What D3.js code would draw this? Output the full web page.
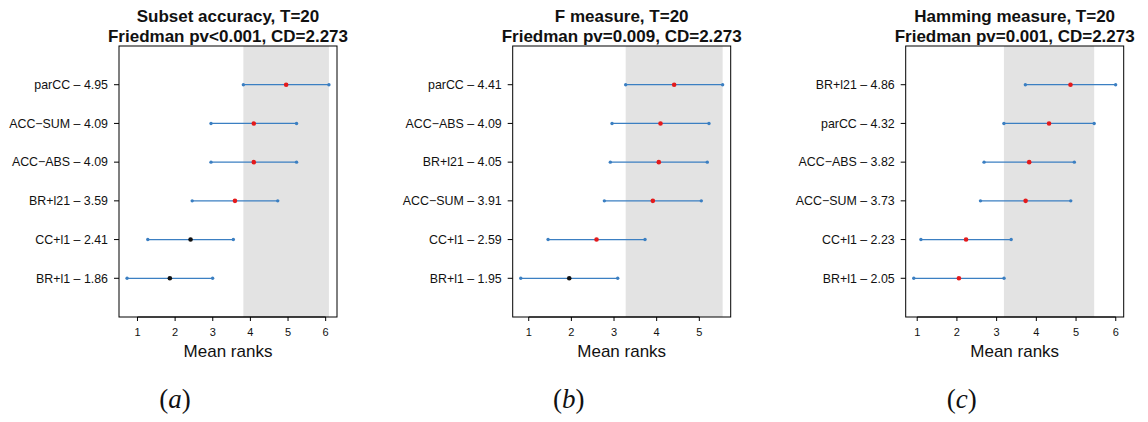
<!DOCTYPE html>
<html>
<head>
<meta charset="utf-8">
<script src="https://cdn.jsdelivr.net/npm/d3@7"></script>
<style>
  body { margin: 0; background: #fff; }
  text { font-family: "Liberation Sans", Arial, sans-serif; }
</style>
</head>
<body>
<script>
const WIDTH = 1148;
const HEIGHT = 422;

// critical difference (Nemenyi)
const CD = 2.273;
// the shaded band is the interval of this method
const REF = "parCC";

// panel (a)
var titlesA = ["Subset accuracy, T=20", "Friedman pv<0.001, CD=2.273"];
var namesA = ["parCC", "ACC\u2212SUM", "ACC\u2212ABS", "BR+l21", "CC+l1", "BR+l1"];
var ranksA = [4.95, 4.09, 4.09, 3.59, 2.41, 1.86];
var sameA = [true, true, true, true, false, false];

// panel (b)
var titlesB = ["F measure, T=20", "Friedman pv=0.009, CD=2.273"];
var namesB = ["parCC", "ACC\u2212ABS", "BR+l21", "ACC\u2212SUM", "CC+l1", "BR+l1"];
var ranksB = [4.41, 4.09, 4.05, 3.91, 2.59, 1.95];
var sameB = [true, true, true, true, true, false];

// panel (c)
var titlesC = ["Hamming measure, T=20", "Friedman pv=0.001, CD=2.273"];
var namesC = ["BR+l21", "parCC", "ACC\u2212ABS", "ACC\u2212SUM", "CC+l1", "BR+l1"];
var ranksC = [4.86, 4.32, 3.82, 3.73, 2.23, 2.05];
var sameC = [true, true, true, true, true, true];

var captions = ["a", "b", "c"];

const PW = 218;          // plot width
const TOP = 46, BOTTOM = 317;
const LEFTS = [119, 512.7, 905.7];
const LINE = "#3b7fc2";

var svg = d3.select("body").append("svg")
  .attr("width", WIDTH)
  .attr("height", HEIGHT);

var panels = [
  {titles: titlesA, names: namesA, ranks: ranksA, same: sameA},
  {titles: titlesB, names: namesB, ranks: ranksB, same: sameB},
  {titles: titlesC, names: namesC, ranks: ranksC, same: sameC}
];

panels.forEach(function (p, k) {
  var left = LEFTS[k];
  var half = CD / 2;
  var lo = d3.min(p.ranks) - half;
  var hi = d3.max(p.ranks) + half;
  var pad = (hi - lo) * 0.04;

  var x = d3.scaleLinear().domain([lo - pad, hi + pad]).range([left, left + PW]);
  var y = d3.scaleLinear().domain([0, 7]).range([BOTTOM, TOP]);
  var n = p.ranks.length;
  var rowY = (i) => y(n - i);

  var g = svg.append("g");

  // shaded interval of the reference method
  var ref = p.ranks[p.names.indexOf(REF)];
  g.append("rect")
    .attr("x", x(ref - half))
    .attr("y", TOP)
    .attr("width", x(ref + half) - x(ref - half))
    .attr("height", BOTTOM - TOP)
    .attr("fill", "#e3e3e3");

  // intervals
  g.selectAll("line.ci")
    .data(p.ranks)
    .enter()
    .append("line")
    .attr("x1", (d) => x(d - half))
    .attr("x2", (d) => x(d + half))
    .attr("y1", (d, i) => rowY(i))
    .attr("y2", (d, i) => rowY(i))
    .attr("stroke", LINE)
    .attr("stroke-width", 1.3);

  // end points
  p.ranks.forEach(function (d, i) {
    [d - half, d + half].forEach(function (v) {
      g.append("circle")
        .attr("cx", x(v))
        .attr("cy", rowY(i))
        .attr("r", 1.7)
        .attr("fill", LINE);
    });
  });

  // means
  g.selectAll("circle.mean")
    .data(p.ranks)
    .enter()
    .append("circle")
    .attr("cx", (d) => x(d))
    .attr("cy", (d, i) => rowY(i))
    .attr("r", 2.3)
    .attr("fill", (d, i) => p.same[i] ? "#e41a1c" : "#111");

  // box
  g.append("rect")
    .attr("x", left)
    .attr("y", TOP)
    .attr("width", PW)
    .attr("height", BOTTOM - TOP)
    .attr("fill", "none")
    .attr("stroke", "#000")
    .attr("stroke-width", 1);

  // y ticks + labels
  p.names.forEach(function (name, i) {
    g.append("line")
      .attr("x1", left - 5).attr("x2", left)
      .attr("y1", rowY(i)).attr("y2", rowY(i))
      .attr("stroke", "#000");
    g.append("text")
      .attr("x", left - 11)
      .attr("y", rowY(i))
      .attr("dy", "0.35em")
      .attr("text-anchor", "end")
      .attr("font-size", "12.4px")
      .attr("fill", "#111")
      .text(name + " \u2013 " + p.ranks[i].toFixed(2));
  });

  // x axis
  var ticks = d3.range(Math.ceil(lo - pad), Math.floor(hi + pad) + 1);
  g.append("line")
    .attr("x1", x(ticks[0])).attr("x2", x(ticks[ticks.length - 1]))
    .attr("y1", BOTTOM).attr("y2", BOTTOM)
    .attr("stroke", "#000");
  ticks.forEach(function (t) {
    g.append("line")
      .attr("x1", x(t)).attr("x2", x(t))
      .attr("y1", BOTTOM).attr("y2", BOTTOM + 4)
      .attr("stroke", "#000");
    g.append("text")
      .attr("x", x(t))
      .attr("y", BOTTOM + 19)
      .attr("text-anchor", "middle")
      .attr("font-size", "11px")
      .attr("fill", "#111")
      .text(t);
  });

  g.append("text")
    .attr("x", left + PW / 2)
    .attr("y", 357)
    .attr("text-anchor", "middle")
    .attr("font-size", "17px")
    .attr("fill", "#111")
    .text("Mean ranks");

  // titles
  p.titles.forEach(function (t, j) {
    g.append("text")
      .attr("x", left + PW / 2)
      .attr("y", 22 + j * 19.5)
      .attr("text-anchor", "middle")
      .attr("font-size", "17px")
      .attr("font-weight", "bold")
      .attr("fill", "#111")
      .text(t);
  });

  // sub-figure caption
  var cap = g.append("text")
    .attr("x", left + 56)
    .attr("y", 408)
    .attr("text-anchor", "middle")
    .attr("font-size", "27px")
    .style("font-family", "'Liberation Serif', 'DejaVu Serif', serif")
    .attr("fill", "#111");
  cap.append("tspan").text("(");
  cap.append("tspan").attr("font-style", "italic").text(captions[k]);
  cap.append("tspan").text(")");
});
</script>
</body>
</html>
